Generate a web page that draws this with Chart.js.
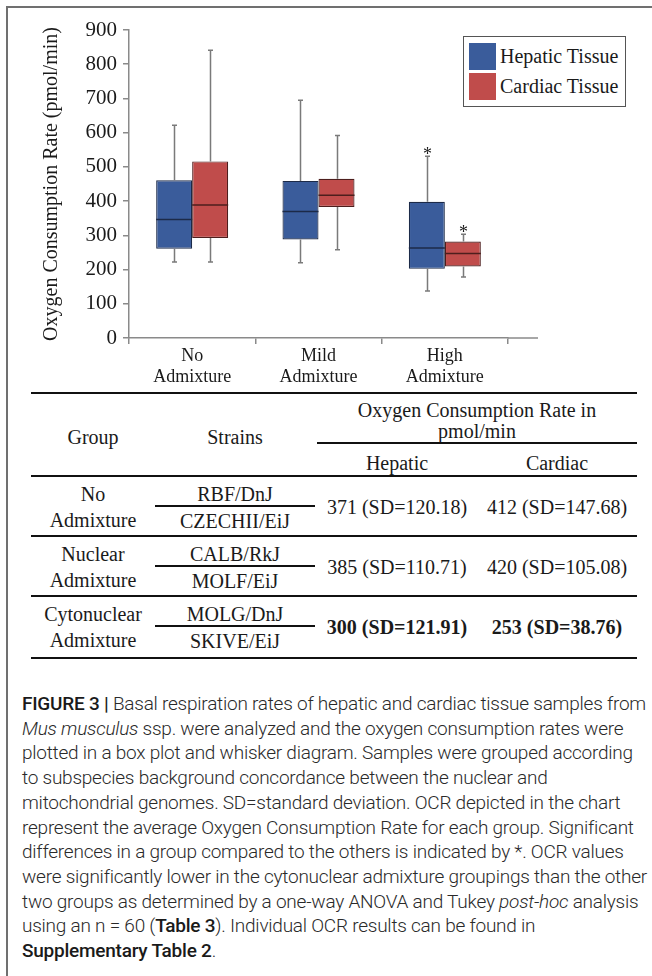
<!DOCTYPE html>
<html>
<head>
<meta charset="utf-8">
<script src="https://cdn.jsdelivr.net/npm/chart.js@4.4.1/dist/chart.umd.min.js"></script>
<style>
  html, body { margin: 0; padding: 0; background: #fff; }
  body { width: 652px; height: 976px; position: relative; overflow: hidden; font-family: "Liberation Serif", "Times New Roman", serif; color: #1a1a1a; }
  #frame { position: absolute; left: 6px; top: 6px; width: 700px; height: 1000px; border-left: 2px solid #707070; border-top: 2px solid #707070; }
  #chart { position: absolute; left: 0; top: 0; }
  #legend { position: absolute; left: 463px; top: 36px; width: 161px; height: 69px; border: 1px solid #555; background: #fff; }
  .leg-row { position: absolute; left: 5px; height: 27px; display: flex; align-items: center; font-size: 20px; white-space: nowrap; }
  .leg-sw { width: 27px; height: 27px; margin-right: 4px; }
  .rule { position: absolute; background: #111; }
  .cell { position: absolute; transform: translate(-50%, -50%); white-space: nowrap; font-size: 20px; line-height: 1; }
  .b { font-weight: bold; }
  #caption { position: absolute; left: 22px; top: 692px; font-family: Roboto, "Liberation Sans", sans-serif; font-weight: 300; font-size: 19px; color: #2a2a2a; line-height: 24.7px; }
  #caption .ln { white-space: nowrap; }
  #caption strong { font-weight: 500; color: #1a1a1a; }
</style>
</head>
<body>
<div id="frame"></div>
<canvas id="chart" width="652" height="392"></canvas>
<div id="legend"></div>
<div id="table"></div>
<div id="caption"></div>
<script>
// chart data
const categories = [['No', 'Admixture'], ['Mild', 'Admixture'], ['High', 'Admixture']]
const seriesNames = ['Hepatic Tissue', 'Cardiac Tissue']
const hepaticMin = [222, 220, 137]
const hepaticQ1 = [261, 288, 202]
const hepaticMedian = [346, 370, 263]
const hepaticQ3 = [461, 459, 398]
const hepaticMax = [622, 695, 531]
const cardiacMin = [222, 258, 178]
const cardiacQ1 = [292, 383, 209]
const cardiacMedian = [389, 417, 247]
const cardiacQ3 = [516, 465, 282]
const cardiacMax = [841, 592, 303]
const hepaticSignificant = [false, false, true]
const cardiacSignificant = [false, false, true]
const yMin = 0
const yMax = 900
const yStep = 100
const yTitle = 'Oxygen Consumption Rate (pmol/min)'

// table data
const tableGroups = [['No', 'Admixture'], ['Nuclear', 'Admixture'], ['Cytonuclear', 'Admixture']]
const tableStrains = [['RBF/DnJ', 'CZECHII/EiJ'], ['CALB/RkJ', 'MOLF/EiJ'], ['MOLG/DnJ', 'SKIVE/EiJ']]
const hepaticMean = [371, 385, 300]
const hepaticSD = ['120.18', '110.71', '121.91']
const cardiacMean = [412, 420, 253]
const cardiacSD = ['147.68', '105.08', '38.76']
const significantRows = [false, false, true]

const SERIF = '"Liberation Serif", "Times New Roman", serif'
const TEXT = '#1a1a1a'
const AXIS = '#8a8a8a'

const series = [
  { min: hepaticMin, q1: hepaticQ1, med: hepaticMedian, q3: hepaticQ3, max: hepaticMax, sig: hepaticSignificant, fill: '#3a5c9b', edge: '#1c2a48' },
  { min: cardiacMin, q1: cardiacQ1, med: cardiacMedian, q3: cardiacQ3, max: cardiacMax, sig: cardiacSignificant, fill: '#c04c4b', edge: '#4d1e1d' }
]

const boxWhiskers = {
  id: 'boxWhiskers',
  afterDatasetsDraw(chart) {
    const ctx = chart.ctx
    const y = chart.scales.y
    const area = chart.chartArea
    ctx.save()
    // x axis line runs a little past the last category
    ctx.strokeStyle = AXIS
    ctx.lineWidth = 1.5
    ctx.beginPath()
    ctx.moveTo(area.right, area.bottom)
    ctx.lineTo(area.right + 30, area.bottom)
    ctx.stroke()

    chart.data.datasets.forEach((ds, i) => {
      const s = series[i]
      chart.getDatasetMeta(i).data.forEach((bar, j) => {
        const x = Math.round(bar.x) + 0.5
        const half = bar.width / 2
        const yMaxPx = y.getPixelForValue(s.max[j])
        const yMinPx = y.getPixelForValue(s.min[j])
        ctx.strokeStyle = '#7a7a7a'
        ctx.lineWidth = 1.5
        ctx.beginPath()
        ctx.moveTo(x, y.getPixelForValue(s.q3[j]))
        ctx.lineTo(x, yMaxPx)
        ctx.moveTo(x, y.getPixelForValue(s.q1[j]))
        ctx.lineTo(x, yMinPx)
        ctx.moveTo(x - 2.5, yMaxPx)
        ctx.lineTo(x + 2.5, yMaxPx)
        ctx.moveTo(x - 2.5, yMinPx)
        ctx.lineTo(x + 2.5, yMinPx)
        ctx.stroke()

        ctx.strokeStyle = s.edge
        ctx.lineWidth = 1.5
        ctx.beginPath()
        const ym = y.getPixelForValue(s.med[j])
        ctx.moveTo(bar.x - half, ym)
        ctx.lineTo(bar.x + half, ym)
        ctx.stroke()

        if (s.sig[j]) {
          ctx.fillStyle = TEXT
          ctx.font = '18px ' + SERIF
          ctx.textAlign = 'center'
          ctx.textBaseline = 'alphabetic'
          ctx.fillText('*', x, yMaxPx + 4)
        }
      })
    })
    ctx.restore()
  }
}

const datasets = series.map((s, i) => ({
  label: seriesNames[i],
  data: s.q1.map((v, j) => [v, s.q3[j]]),
  backgroundColor: s.fill,
  borderColor: s.edge,
  borderWidth: 1.2,
  borderSkipped: false,
  barPercentage: 1,
  categoryPercentage: 0.57
}))

new Chart(document.getElementById('chart'), {
  type: 'bar',
  data: { labels: categories, datasets },
  options: {
    responsive: false,
    animation: false,
    devicePixelRatio: 1,
    layout: { padding: { top: 30, right: 144, bottom: 0, left: 0 } },
    plugins: { legend: { display: false }, tooltip: { enabled: false } },
    scales: {
      x: {
        grid: { offset: true, drawOnChartArea: false, tickLength: 6, color: AXIS, lineWidth: 1.5 },
        border: { color: AXIS, width: 1.5 },
        ticks: { color: TEXT, font: { family: SERIF, size: 18, lineHeight: 1.17 }, padding: 2, maxRotation: 0 },
        afterFit(scale) { scale.height = 54 }
      },
      y: {
        min: yMin,
        max: yMax,
        grid: { drawOnChartArea: false, tickLength: 6, color: AXIS, lineWidth: 1.5 },
        border: { color: AXIS, width: 1.5 },
        ticks: { stepSize: yStep, color: TEXT, font: { family: SERIF, size: 21 }, padding: 6 },
        title: { display: true, text: yTitle, color: TEXT, font: { family: SERIF, size: 20 }, padding: { top: 40, bottom: 0 } },
        afterFit(scale) { scale.width = 129 }
      }
    }
  },
  plugins: [boxWhiskers]
})

// legend
const legend = document.getElementById('legend')
seriesNames.forEach((name, i) => {
  const row = document.createElement('div')
  row.className = 'leg-row'
  row.style.top = (6 + i * 30) + 'px'
  row.innerHTML = '<div class="leg-sw" style="background:' + series[i].fill + '"></div><span>' + name + '</span>'
  legend.appendChild(row)
})

// table
const table = document.getElementById('table')
const rule = (x1, x2, y, h) => {
  const d = document.createElement('div')
  d.className = 'rule'
  d.style.left = x1 + 'px'
  d.style.width = (x2 - x1) + 'px'
  d.style.top = (y - h / 2) + 'px'
  d.style.height = h + 'px'
  table.appendChild(d)
}
const cell = (text, x, y, bold) => {
  const d = document.createElement('div')
  d.className = 'cell' + (bold ? ' b' : '')
  d.style.left = x + 'px'
  d.style.top = y + 'px'
  d.textContent = text
  table.appendChild(d)
}
const colGroup = 93, colStrain = 235, colHep = 397, colCar = 557
rule(31, 637, 393, 2.5)
cell('Group', colGroup, 437)
cell('Strains', colStrain, 437)
cell('Oxygen Consumption Rate in', 477, 410)
cell('pmol/min', 477, 431)
rule(317, 637, 443, 1.5)
cell('Hepatic', colHep, 463)
cell('Cardiac', colCar, 463)
rule(31, 637, 476, 2)
const rowTops = [476, 536, 596]
tableGroups.forEach((g, i) => {
  const t = rowTops[i]
  cell(g[0], colGroup, t + 18)
  cell(g[1], colGroup, t + 44)
  cell(tableStrains[i][0], colStrain, t + 18)
  cell(tableStrains[i][1], colStrain, t + 45)
  rule(155, 315, t + 30, 1.2)
  cell(hepaticMean[i] + ' (SD=' + hepaticSD[i] + ')', colHep, t + 31, significantRows[i])
  cell(cardiacMean[i] + ' (SD=' + cardiacSD[i] + ')', colCar, t + 31, significantRows[i])
  if (i < 2) rule(31, 637, rowTops[i + 1], 1.5)
})
rule(31, 637, 658, 2.5)

// caption
const captionLines = [
  '<strong>FIGURE 3 |</strong> Basal respiration rates of hepatic and cardiac tissue samples from',
  '<em>Mus musculus</em> ssp. were analyzed and the oxygen consumption rates were',
  'plotted in a box plot and whisker diagram. Samples were grouped according',
  'to subspecies background concordance between the nuclear and',
  'mitochondrial genomes. SD=standard deviation. OCR depicted in the chart',
  'represent the average Oxygen Consumption Rate for each group. Significant',
  'differences in a group compared to the others is indicated by *. OCR values',
  'were significantly lower in the cytonuclear admixture groupings than the other',
  'two groups as determined by a one-way ANOVA and Tukey <em>post-hoc</em> analysis',
  'using an n = 60 (<strong>Table 3</strong>). Individual OCR results can be found in',
  '<strong>Supplementary Table 2</strong>.'
]
const caption = document.getElementById('caption')
caption.innerHTML = captionLines.map(l => '<div class="ln"><span>' + l + '</span></div>').join('')
const first = caption.querySelector('.ln span')
const natural = first.getBoundingClientRect().width
const chars = first.textContent.length
caption.style.letterSpacing = ((624 - natural) / chars).toFixed(3) + 'px'
</script>
</body>
</html>
